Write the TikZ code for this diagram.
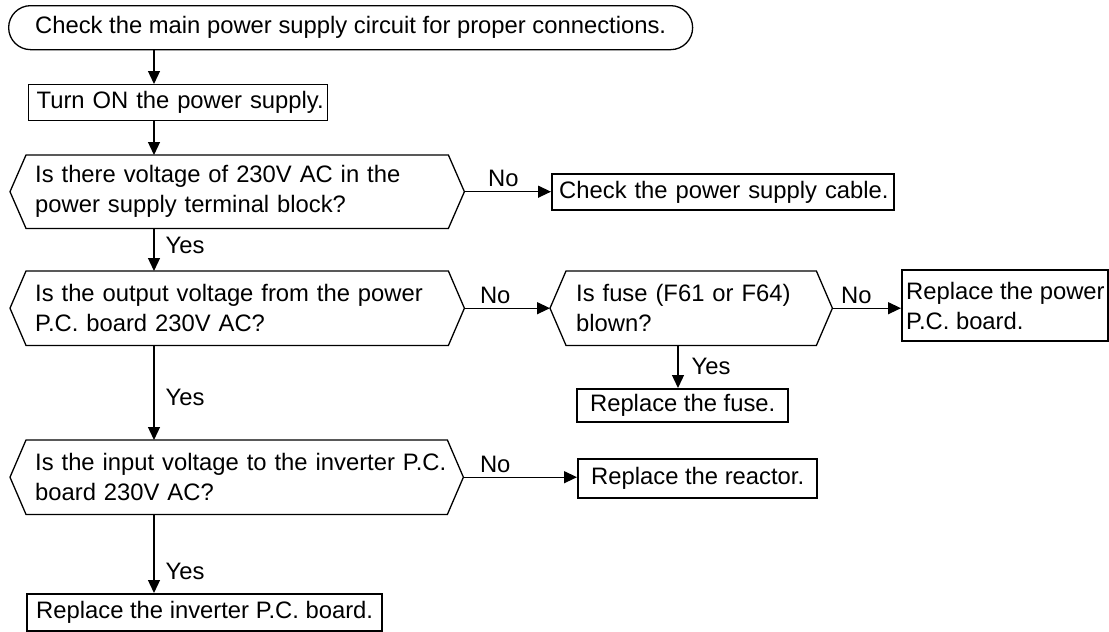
\documentclass[tikz,border=0pt]{standalone}
\usepackage{fontspec}
\setmainfont{Liberation Sans}
\usetikzlibrary{arrows.meta}
\begin{document}
\begin{tikzpicture}[x=1pt,y=-1pt,
  every node/.style={font=\fontsize{23.8}{30}\selectfont},
  thinbox/.style={draw, line width=1.3pt, anchor=north west, inner ysep=0pt, align=left},
  thickbox/.style={draw, line width=2.4pt, anchor=north west, inner ysep=0pt, align=center},
  hexnode/.style={anchor=north west, inner ysep=0pt, align=left},
  hexline/.style={line width=1.3pt, line join=miter},
  arr/.style={line width=1.3pt, -{Triangle[length=13pt,width=12pt]}},
  nolabel/.style={anchor=south, inner sep=0pt, yshift=4pt},
  yeslabel/.style={anchor=west, inner sep=0pt, xshift=11pt}
]
\useasboundingbox (0,0) rectangle (1109,632);
\coordinate (col) at (154,0);
\coordinate (fcol) at (678,0);

\node[draw, line width=1.3pt, rounded corners=22pt, anchor=north west,
      minimum width=684pt, minimum height=44pt, inner sep=0pt] (start) at (8,5)
  {Check the main power supply circuit for proper connections.};

\node[thinbox, inner xsep=8pt, text width=283pt, minimum height=36pt] (turn) at (28,84)
  {\mbox{Turn ON the power supply.}};

\node[hexnode, inner xsep=25pt, text width=404pt, minimum height=73pt] (d1) at (10,155)
  {\mbox{Is there voltage of 230V AC in the}\\\mbox{power supply terminal block?}};
\node[hexnode, inner xsep=25pt, text width=404pt, minimum height=74pt] (d2) at (10,271)
  {\mbox{Is the output voltage from the power}\\\mbox{P.C. board 230V AC?}};
\node[hexnode, inner xsep=26pt, text width=230pt, minimum height=74pt] (d3) at (550,271)
  {\mbox{Is fuse (F61 or F64)}\\\mbox{blown?}};
\node[hexnode, inner xsep=25pt, text width=403pt, minimum height=74pt] (d4) at (10,440)
  {\mbox{Is the input voltage to the inverter P.C.}\\\mbox{board 230V AC?}};

\foreach \n in {d1,d2,d3,d4}
  \draw[hexline] (\n.west) -- ([xshift=16pt]\n.north west) -- ([xshift=-16pt]\n.north east)
    -- (\n.east) -- ([xshift=-16pt]\n.south east) -- ([xshift=16pt]\n.south west) -- cycle;

\node[thickbox, align=left, inner xsep=7pt, text width=328pt, minimum height=36pt] (cable) at (551,173)
  {\mbox{Check the power supply cable.}};
\node[thickbox, align=left, inner xsep=4pt, minimum height=71pt] (power) at (901,269)
  {Replace the power\\P.C. board.};
\node[thickbox, inner xsep=0pt, minimum width=211pt, minimum height=33pt] (fuse) at (576,388)
  {Replace the fuse.};
\node[thickbox, inner xsep=0pt, minimum width=239pt, minimum height=39pt] (reactor) at (577,458)
  {Replace the reactor.};
\node[thickbox, inner xsep=9pt, minimum height=37pt] (inverter) at (26,593)
  {Replace the inverter P.C. board.};

\draw[arr] (start.south -| col) -- (turn.north -| col);
\draw[arr] (turn.south -| col) -- (d1.north -| col);
\draw[arr] (d1.south -| col) -- node[yeslabel, pos=0.4] {Yes} (d2.north -| col);
\draw[arr] (d2.south -| col) -- node[yeslabel, pos=0.55] {Yes} (d4.north -| col);
\draw[arr] (d4.south -| col) -- node[yeslabel, pos=0.73] {Yes} (inverter.north -| col);
\draw[arr] (d3.south -| fcol) -- node[yeslabel, pos=0.5, xshift=2pt] {Yes} (fuse.north -| fcol);

\draw[arr] (d1.east) -- node[nolabel, pos=0.45] {No} (d1.east -| cable.west);
\draw[arr] (d2.east) -- node[nolabel, pos=0.36] {No} (d3.west);
\draw[arr] (d3.east) -- node[nolabel, pos=0.35] {No} (d3.east -| power.west);
\draw[arr] (d4.east) -- node[nolabel, pos=0.28] {No} (d4.east -| reactor.west);
\end{tikzpicture}
\end{document}
